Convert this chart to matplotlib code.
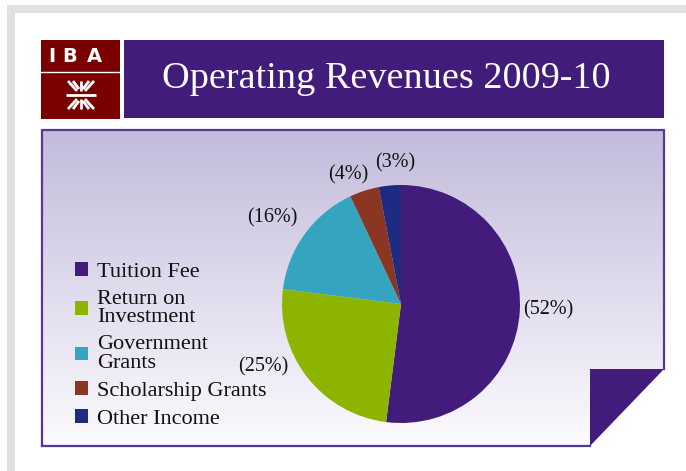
import matplotlib
matplotlib.use("Agg")
import matplotlib.pyplot as plt
import numpy as np
from matplotlib.patches import Rectangle, Polygon

categories = ["Tuition Fee", "Return on\nInvestment", "Government\nGrants",
              "Scholarship Grants", "Other Income"]
shares = [52, 25, 16, 4, 3]
colors = ["#411c7b", "#8db500", "#35a5bf", "#8a3622", "#1f2a82"]
title = "Operating Revenues 2009-10"

# where each percentage sits around the pie, in units of the pie radius
label_xy = [(1.235, -0.05), (-1.16, -0.53), (-1.08, 0.72), (-0.445, 1.084), (-0.05, 1.185)]

W, H = 686, 471
PURPLE = "#421c7a"
SERIF = "Liberation Serif"

fig = plt.figure(figsize=(W / 100, H / 100), dpi=100)
bg = fig.add_axes([0, 0, 1, 1])
bg.set_xlim(0, W)
bg.set_ylim(H, 0)
bg.axis("off")

# slide frame
bg.add_patch(Rectangle((7, 5), W - 7, 8, color="#e1e1e1", lw=0))
bg.add_patch(Rectangle((7, 5), 8, H - 5, color="#e1e1e1", lw=0))

# logo block
bg.add_patch(Rectangle((41, 40), 79, 79, color="#7a0000", lw=0))
bg.plot([41, 120], [71.5, 71.5], color="white", lw=1)
for ch, x in zip("IBA", [52, 70, 94]):
    bg.text(x, 57, ch, color="white", fontsize=14, fontweight="bold",
            ha="center", va="center", family="DejaVu Sans")
ex, ey = 81, 95
stroke = dict(color="white", lw=2, solid_capstyle="butt")
for s in (-1, 1):
    # converging strokes above and below the bar
    bg.plot([ex, ex], [ey + s * 14, ey + s * 4], **stroke)
    for dx in (-1, 1):
        bg.plot([ex + dx * 13, ex + dx * 4], [ey + s * 14, ey + s * 4], **stroke)
        bg.plot([ex + dx * 8, ex + dx * 2], [ey + s * 14, ey + s * 6], **stroke)
bg.plot([ex - 15, ex + 15], [ey, ey], **stroke)

# title banner
bg.add_patch(Rectangle((124, 40), 540, 78, color=PURPLE, lw=0))
bg.text(386, 79, title, color="white", fontsize=27.5, family=SERIF,
        ha="center", va="center")

# content panel with a vertical lavender-to-white gradient and a turned corner
panel = [(42, 130), (664, 130), (664, 369), (590, 446), (42, 446)]
top = np.array([195, 187, 219]) / 255
bot = np.array([252, 251, 254]) / 255
t = np.linspace(0, 1, 256)[:, None]
grad = (top * (1 - t) + bot * t)[:, None, :]
im = bg.imshow(grad, extent=(42, 664, 446, 130), aspect="auto", zorder=1)
clip = Polygon(panel, closed=True, transform=bg.transData, fc="none", lw=0)
bg.add_patch(clip)
im.set_clip_path(clip)
bg.add_patch(Polygon([(590, 369), (664, 369), (590, 446)], color=PURPLE, lw=0, zorder=2))
bg.plot([42, 42, 664, 664], [446, 130, 130, 369], color="#56389b", lw=1.6, zorder=3)
bg.plot([42, 590], [446, 446], color="#56389b", lw=1.6, zorder=3)

# pie
R, cx, cy = 119, 401, 304
half = 1.5 * R
pax = fig.add_axes([(cx - half) / W, (H - cy - half) / H, 2 * half / W, 2 * half / H])
wedges, _ = pax.pie(shares, colors=colors, startangle=90, counterclock=False, radius=1)
pax.set_xlim(-1.5, 1.5)
pax.set_ylim(-1.5, 1.5)
pax.set_aspect("equal")
for v, (x, y) in zip(shares, label_xy):
    pax.text(x, y, f"({v}%)", ha="center", va="center", fontsize=14.5,
             family=SERIF, color="#111111")

leg = fig.legend(wedges, categories, loc="upper left", bbox_to_anchor=(75 / W, 1 - 262 / H),
                 frameon=False, prop=dict(family=SERIF, size=16),
                 handlelength=0.58, handleheight=0.58, handletextpad=0.4,
                 labelspacing=0.36, borderpad=0, borderaxespad=0)
for txt in leg.get_texts():
    txt.set_linespacing(0.98)
    txt.set_color("#111111")

fig.savefig("out.png", dpi=100)
